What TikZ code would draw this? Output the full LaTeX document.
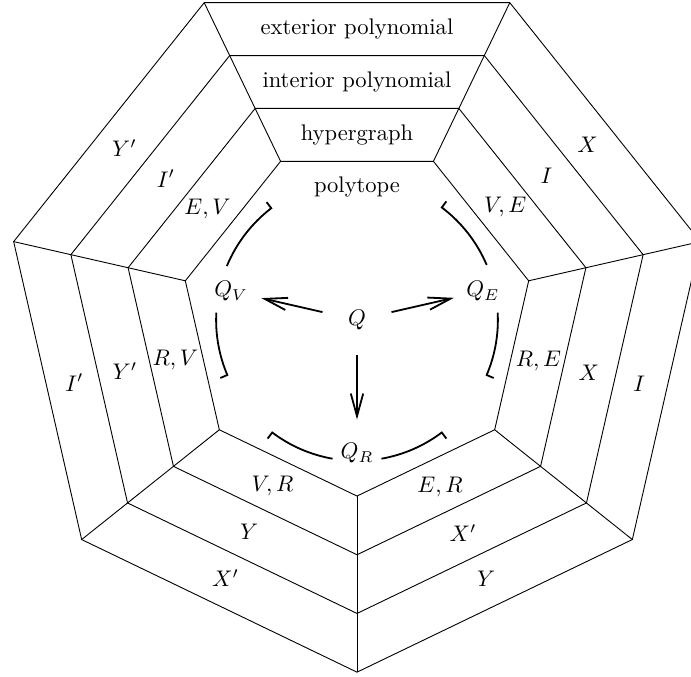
\documentclass[tikz,border=0pt]{standalone}
\usepackage{tikz}
\usetikzlibrary{arrows.meta}

\begin{document}
\begin{tikzpicture}[x=0.914cm, y=0.914cm,
        ring/.style={line width=0.4pt},
        hook/.style={line width=0.8pt},
        qarrow/.style={line width=0.8pt, -{Straight Barb[length=10pt,width=5.5pt]}},
    ]
        \useasboundingbox (-6.082,-6.082) rectangle (5.690,5.451);
        \clip (-6.082,-6.082) rectangle (5.690,5.451);
        \foreach \r in {3,4,5,6}
            \draw[ring] (-90:\r) \foreach \k in {1,...,6} {-- (-90+\k*360/7:\r)} -- cycle;
        \foreach \k in {0,...,6}
            \draw[ring] (-90+\k*360/7:3) -- (-90+\k*360/7:6);
        \node (ext) at (0,4.955) {exterior polynomial};
        \node (int) at (0,4.055) {interior polynomial};
        \node (hyp) at (0,3.153) {hypergraph};
        \node (pol) at (0,2.27) {polytope};
        \foreach \a/\o/\m/\n [count=\i] in {143.5/Y'/I'/{E,V}, 192.5/I'/Y'/{R,V}, 243/X'/Y/{V,R},
                -63.5/Y/X'/{E,R}, -12.8/I/X/{R,E}, 37.2/X/I/{V,E}} {
            \node (o\i) at (\a:4.93) {$\o$};
            \node (m\i) at (\a:4.05) {$\m$};
            \node (n\i) at (\a:3.17) {$\n$};
        }
        \node (Q) at (0,0) {$Q$};
        \node (QV) at (167.14:2.2) {$Q_V$};
        \node (QE) at (12.86:2.2) {$Q_E$};
        \node (QR) at (-90:2.27) {$Q_R$};
        \draw[qarrow, shorten <=8pt, shorten >=2.5pt] (Q) -- (QV);
        \draw[qarrow, shorten <=8pt, shorten >=2pt] (Q) -- (QE);
        \draw[qarrow, shorten <=7.4pt, shorten >=7pt] (Q) -- (QR);
        \foreach \s/\e in {127.5/157.5, 203/177, 53/23, -23/3, -127/-100, -53/-80}
            \draw[hook] (\s:2.53) -- (\s:2.4) arc[start angle=\s, end angle=\e, radius=2.4];
    \end{tikzpicture}
\end{document}
